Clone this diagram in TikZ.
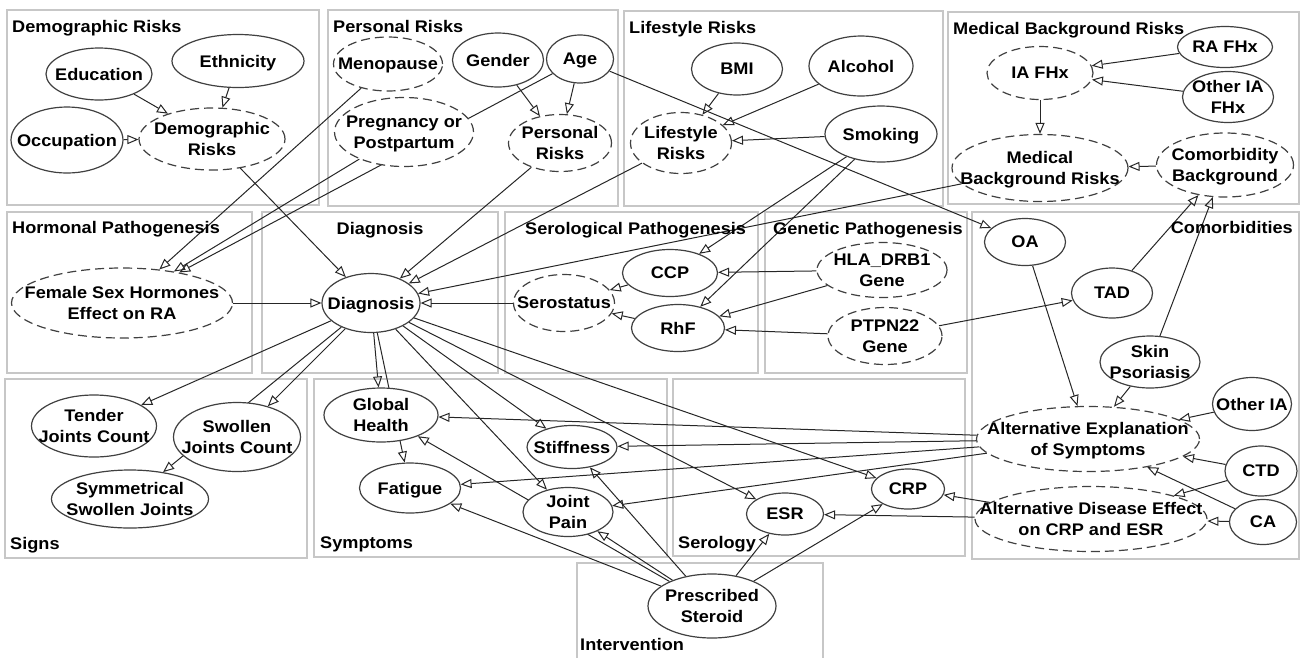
\documentclass[tikz,border=0pt]{standalone}
\usepackage{fontspec}
\setmainfont{Liberation Sans}[FakeStretch=1.08]
\usetikzlibrary{shapes.geometric,arrows.meta}
\pgfdeclarelayer{frames}
\pgfdeclarelayer{edges}
\pgfsetlayers{frames,edges,main}
\newcommand\nfont{\fontsize{16.8}{21.5}\selectfont\bfseries}
\newcommand\ev[7]{%
  \node[#1, minimum width=#5pt, minimum height=#6pt] (#2) at (#3,#4) {};
  \node[lbl] (#2-t) at (#3,#4) {#7};}
\begin{document}
\begin{tikzpicture}[x=1pt,y=-1pt,
  frame/.style={draw=black!22, line width=2pt},
  ttl/.style={font=\nfont, anchor=base west, inner sep=0pt},
  sv/.style={ellipse, draw=black!75, line width=1.2pt, fill=white, inner sep=0pt},
  dv/.style={sv, dash pattern=on 9pt off 5pt},
  lbl/.style={align=center, font=\nfont, inner sep=0pt, text depth=0pt},
  arr/.style={draw=black!85, line width=1pt, -{Triangle[open,length=11pt,width=9pt]}}]
\useasboundingbox (0,0) rectangle (1304,657);

% frames
\begin{pgfonlayer}{frames}
\draw[frame] (7,10) rectangle (319,205);
\draw[frame] (328,10) rectangle (618,206);
\draw[frame] (624,11) rectangle (943,206);
\draw[frame] (948,12) rectangle (1299,204);
\draw[frame] (7,212) rectangle (252,373);
\draw[frame] (262,212) rectangle (498,373);
\draw[frame] (505,212) rectangle (758,373);
\draw[frame] (765,212) rectangle (967,373);
\draw[frame] (972,212) rectangle (1299,559);
\draw[frame] (5,379) rectangle (307,558);
\draw[frame] (314,379) rectangle (667,557);
\draw[frame] (673,379) rectangle (965,556);
\draw[frame] (577,563) rectangle (823,662);
\end{pgfonlayer}

% titles
\node[ttl] (t1) at (12,32.5) {Demographic Risks};
\node[ttl] (t2) at (333,32) {Personal Risks};
\node[ttl] (t3) at (629,33) {Lifestyle Risks};
\node[ttl] (t4) at (953,34) {Medical Background Risks};
\node[ttl] (t5) at (12,233.5) {Hormonal Pathogenesis};
\node[ttl, anchor=base] (t6) at (380,234) {Diagnosis};
\node[ttl] (t7) at (525,234) {Serological Pathogenesis};
\node[ttl] (t8) at (773,234) {Genetic Pathogenesis};
\node[ttl, anchor=base east] (t9) at (1293,233.5) {Comorbidities};
\node[ttl] (t10) at (10,549) {Signs};
\node[ttl] (t11) at (320,548) {Symptoms};
\node[ttl] (t12) at (678,548) {Serology};
\node[ttl] (t13) at (580,650) {Intervention};

% nodes
\ev{sv}{edu}{99}{74}{106}{52}{Education}
\ev{sv}{eth}{238}{61}{132}{53}{Ethnicity}
\ev{sv}{occ}{67}{140}{112}{66}{Occupation}
\ev{dv}{demo}{212}{139}{146}{62}{Demographic\\Risks}
\ev{dv}{meno}{388}{64}{109}{54}{Menopause}
\ev{sv}{gen}{498}{60}{91}{54}{Gender}
\ev{sv}{age}{580}{59}{67}{48}{Age}
\ev{dv}{preg}{404}{132}{139}{69}{Pregnancy or\\Postpartum}
\ev{dv}{pers}{560}{143}{103}{57}{Personal\\Risks}
\ev{sv}{bmi}{737}{69}{91}{52}{BMI}
\ev{sv}{alc}{861}{66}{104}{60}{Alcohol}
\ev{sv}{smk}{881}{134}{112}{56}{Smoking}
\ev{dv}{life}{681}{143}{101}{61}{Lifestyle\\Risks}
\ev{sv}{rafhx}{1225}{47}{95}{41}{RA FHx}
\ev{dv}{iafhx}{1040}{73}{106}{53}{IA FHx}
\ev{sv}{oiafhx}{1228}{97}{91}{51}{Other IA\\FHx}
\ev{dv}{mbr}{1040}{168}{176}{67}{Medical\\Background Risks}
\ev{dv}{cb}{1225}{165}{137}{64}{Comorbidity\\Background}
\ev{dv}{fsh}{122}{303}{221}{70}{Female Sex Hormones\\Effect on RA}
\ev{sv}{diag}{371}{303}{98}{59}{Diagnosis}
\ev{dv}{sero}{564}{303}{101}{57}{Serostatus}
\ev{sv}{ccp}{670}{273}{95}{47}{CCP}
\ev{sv}{rhf}{678}{328}{93}{47}{RhF}
\ev{dv}{hla}{882}{270}{130}{55}{HLA\_DRB1\\Gene}
\ev{dv}{ptpn}{885}{336}{114}{57}{PTPN22\\Gene}
\ev{sv}{oa}{1025}{242}{81}{47}{OA}
\ev{sv}{tad}{1112}{293}{81}{50}{TAD}
\ev{sv}{skin}{1150}{362}{100}{52}{Skin\\Psoriasis}
\ev{sv}{oia}{1252}{404}{79}{53}{Other IA}
\ev{dv}{aes}{1088}{439}{223}{65}{Alternative Explanation\\of Symptoms}
\ev{sv}{ctd}{1261}{471}{72}{50}{CTD}
\ev{sv}{ca}{1263}{522}{67}{45}{CA}
\ev{dv}{ade}{1091}{519}{232}{65}{Alternative Disease Effect\\on CRP and ESR}
\ev{sv}{tjc}{94}{426}{125}{62}{Tender\\Joints Count}
\ev{sv}{sjc}{237}{437}{127}{69}{Swollen\\Joints Count}
\ev{sv}{ssj}{130}{499}{157}{58}{Symmetrical\\Swollen Joints}
\ev{sv}{gh}{381}{415}{114}{54}{Global\\Health}
\ev{sv}{stf}{572}{447}{90}{43}{Stiffness}
\ev{sv}{fat}{410}{488}{101}{50}{Fatigue}
\ev{sv}{jp}{568}{512}{90}{49}{Joint\\Pain}
\ev{sv}{esr}{785}{514}{77}{42}{ESR}
\ev{sv}{crp}{908}{489}{73}{40}{CRP}
\ev{sv}{ster}{712}{606}{128}{64}{Prescribed\\Steroid}

% edges
\begin{pgfonlayer}{edges}
\foreach \a/\b in {edu/demo, eth/demo, occ/demo, demo/diag,
  gen/pers, age/pers, age/fsh, age/oa, meno/fsh, preg/fsh, pers/diag,
  life/diag, bmi/life, alc/life, smk/life, smk/ccp, smk/rhf,
  rafhx/iafhx, oiafhx/iafhx, iafhx/mbr, cb/mbr, mbr/diag,
  fsh/diag, sero/diag, ccp/sero, rhf/sero, hla/ccp, hla/rhf,
  ptpn/rhf, ptpn/tad, tad/cb, skin/cb, oa/aes, skin/aes, oia/aes,
  ctd/aes, ctd/ade, ca/aes, ca/ade, ade/crp, ade/esr,
  aes/gh, aes/stf, aes/fat, aes/jp,
  diag/tjc, diag/sjc, diag/ssj, diag/gh, diag/fat, diag/jp, diag/stf,
  diag/esr, diag/crp,
  ster/gh, ster/fat, ster/jp, ster/stf, ster/esr, ster/crp}
  \draw[arr] (\a) -- (\b);
\end{pgfonlayer}
\end{tikzpicture}
\end{document}
